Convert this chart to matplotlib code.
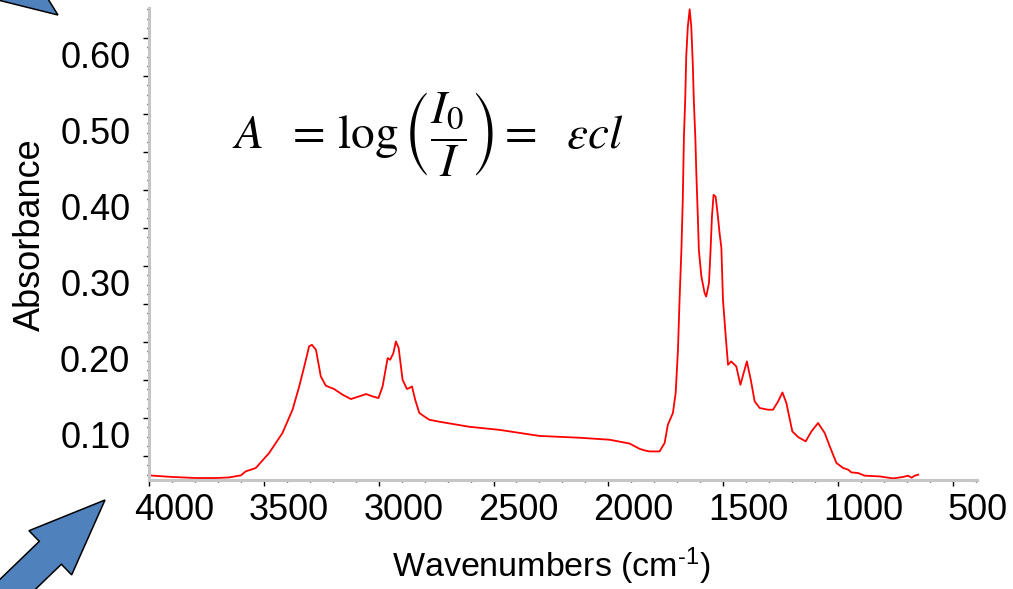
import numpy as np
import matplotlib
matplotlib.use("Agg")
import matplotlib.pyplot as plt
from matplotlib.patches import Polygon
from matplotlib.transforms import ScaledTranslation

plt.rcParams['font.family'] = 'Liberation Sans'
plt.rcParams['mathtext.fontset'] = 'custom'
plt.rcParams['mathtext.rm'] = 'Liberation Sans'
plt.rcParams['mathtext.it'] = 'Liberation Sans:italic'

# IR spectrum (wavenumber in cm-1, absorbance)
wavenumber = [3997, 3900, 3796, 3704, 3651, 3600, 3579, 3535, 3477, 3419, 3375,
              3346, 3324, 3303, 3291, 3273, 3252, 3230, 3194, 3157, 3121,
              3085, 3055, 3027, 3001, 2983, 2961, 2950, 2936, 2925, 2913,
              2896, 2877, 2867, 2855, 2841, 2823, 2780, 2736, 2605, 2475,
              2300, 2126, 1995, 1908, 1864, 1843, 1821, 1777, 1755, 1741,
              1719, 1707, 1697, 1690, 1682, 1676, 1671, 1665, 1661, 1654,
              1646, 1639, 1632, 1628, 1621, 1617, 1610, 1606, 1595, 1581,
              1574, 1562, 1555, 1549, 1542, 1533, 1523, 1516, 1508, 1501,
              1489, 1479, 1465, 1443, 1425, 1411, 1397, 1380, 1363, 1341,
              1305, 1283, 1261, 1242, 1225, 1199, 1174, 1141, 1116, 1087,
              1058, 1036, 1007, 978, 956, 942, 913, 884, 818, 760,
              717, 695, 680, 666, 651]
absorbance = [0.024, 0.022, 0.0206, 0.0206, 0.0214, 0.0241, 0.0293, 0.0338, 0.0535, 0.0798, 0.1105,
              0.1411, 0.1674, 0.1937, 0.1959, 0.1893, 0.1542, 0.142, 0.1377, 0.1302, 0.1245,
              0.128, 0.1311, 0.128, 0.1258, 0.1411, 0.1784, 0.1762, 0.185, 0.2003, 0.1916,
              0.1499, 0.1377, 0.139, 0.1411, 0.1236, 0.1061, 0.0973, 0.0947, 0.088, 0.084,
              0.076, 0.0736, 0.071, 0.066, 0.059, 0.057, 0.0556, 0.0556, 0.0667, 0.0907,
              0.1061, 0.1324, 0.1893, 0.2551, 0.3208, 0.3866, 0.4698, 0.5224, 0.575, 0.6145,
              0.6373, 0.6145, 0.5619, 0.5181, 0.4655, 0.4217, 0.3603, 0.3208, 0.2857, 0.2639,
              0.2594, 0.277, 0.3208, 0.3646, 0.3932, 0.3909, 0.3646, 0.3432, 0.3235, 0.2551,
              0.2068, 0.1696, 0.174, 0.1674, 0.1433, 0.1587, 0.174, 0.1499, 0.1214, 0.1127,
              0.1105, 0.1105, 0.1214, 0.1332, 0.1193, 0.0819, 0.0746, 0.0688, 0.0819, 0.093,
              0.0798, 0.0622, 0.0404, 0.0338, 0.0316, 0.028, 0.0272, 0.0237, 0.0227, 0.0201,
              0.022, 0.0237, 0.021, 0.0237, 0.025]

xticks = [4000, 3500, 3000, 2500, 2000, 1500, 1000, 500]
xtick_labels = ['4000', '3500', '3000', '2500', '2000', '1500', '1000', '500']
yticks = [0.05, 0.10, 0.15, 0.20, 0.25, 0.30, 0.35, 0.40, 0.45, 0.50, 0.55, 0.60]
ytick_labels = ['', '0.10', '', '0.20', '', '0.30', '', '0.40', '', '0.50', '', '0.60']

W, H = 1013, 589
fig = plt.figure(figsize=(W / 100, H / 100), dpi=100)
ax = fig.add_axes([149 / W, 1 - 480 / H, (977 - 149) / W, (480 - 8) / H])

ax.plot(wavenumber, absorbance, color='#ff0000', lw=1.3)
ax.set_xlim(4000, 395)
ax.set_ylim(0.018, 0.639)

for s in ['top', 'right']:
    ax.spines[s].set_visible(False)
for s in ['left', 'bottom']:
    ax.spines[s].set_color('#c6c6c6')
    ax.spines[s].set_linewidth(2.2)

ax.set_xticks(xticks, xtick_labels)
ax.set_xticks(np.arange(400, 4001, 100), minor=True)
ax.set_yticks(yticks, ytick_labels)
ax.set_yticks(np.arange(0.025, 0.64, 0.0125), minor=True)
ax.tick_params(which='major', direction='out', length=4, width=1, color='black', labelsize=26)
ax.tick_params(which='minor', direction='out', length=1.5, width=1, color='black')
ax.tick_params(axis='x', which='major', pad=5)
ax.tick_params(axis='y', which='major', pad=9.5)

# shift tick labels a bit off their ticks
for lab in ax.get_xticklabels():
    lab.set_transform(lab.get_transform() + ScaledTranslation(0.25, 0, fig.dpi_scale_trans))
for lab in ax.get_yticklabels():
    lab.set_transform(lab.get_transform() + ScaledTranslation(0, -0.17, fig.dpi_scale_trans))

fig.text(30 / W, 1 - 235 / H, 'Absorbance', rotation=90, ha='center', va='center', fontsize=26)
fig.text(551 / W, 1 - 566 / H, r'Wavenumbers (cm$^{\text{-}1}$)', ha='center', va='center',
         fontsize=24.5)

fig.text(232 / W, 1 - 134 / H,
         r'$A\ \ = \,\log\left(\dfrac{I_0}{I}\right) =\ \ \varepsilon c l$',
         ha='left', va='center', fontsize=34, math_fontfamily='stix')


# block arrows, drawn in pixel space then scaled to figure fraction
def block_arrow(tip, angle_deg):
    shape = np.array([[0, 0], [-76, 30.7], [-76, 15.9], [-320, 15.9],
                      [-320, -15.9], [-76, -15.9], [-76, -30.7]])
    a = np.deg2rad(angle_deg)
    rot = np.array([[np.cos(a), -np.sin(a)], [np.sin(a), np.cos(a)]])
    pts = shape @ rot.T + np.array(tip)
    pts[:, 0] = pts[:, 0] / W
    pts[:, 1] = 1 - pts[:, 1] / H
    fig.patches.append(Polygon(pts, closed=True, facecolor='#4f81bd', edgecolor='black',
                               lw=1.1, transform=fig.transFigure, figure=fig))


block_arrow((105, 500), -44)
block_arrow((58, 15), 36)

fig.savefig('out.png', dpi=100)
